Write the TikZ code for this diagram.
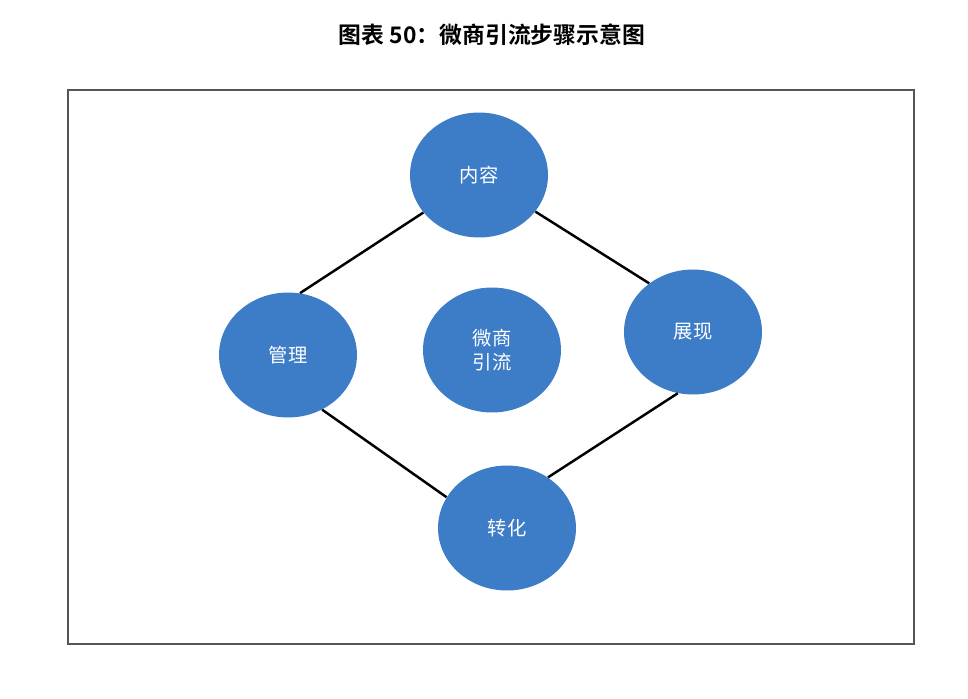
\documentclass[tikz,border=0pt]{standalone}
\usepackage{fontspec}
\newfontfamily\cjk{Noto Sans CJK SC}
\newfontfamily\cjkbold{Noto Sans CJK SC Bold}
\usetikzlibrary{shapes.geometric}
\definecolor{stepblue}{HTML}{3D7CC7}
\definecolor{framegray}{HTML}{555555}

\begin{document}
\begin{tikzpicture}[
    x=0.02cm, y=-0.02cm,
    stepnode/.style={ellipse, fill=stepblue, minimum width=2.76cm, minimum height=2.5cm,
      inner sep=0pt, text=white, font=\cjk\fontsize{11}{14}\selectfont},
    link/.style={line width=1.4pt, black}
  ]
  \useasboundingbox (0,0) rectangle (968,698);

  %% Title
  \node[font=\cjkbold\fontsize{13}{15}\selectfont] (title) at (492,35) {图表 50：微商引流步骤示意图};

  %% Frame
  \draw[framegray, line width=1.2pt] (68,90) rectangle (914,644);

  %% Steps
  \node[stepnode] (neirong)  at (479,175) {内容};
  \node[stepnode] (guanli)   at (288,355) {管理};
  \node[stepnode, align=left] (center) at (492,350) {微商\\引流};
  \node[stepnode] (zhanxian) at (693,332) {展现};
  \node[stepnode] (zhuanhua) at (507,528) {转化};

  %% Links
  \draw[link] (guanli.79)    -- (neirong.214);
  \draw[link] (neirong.327)  -- (zhanxian.132);
  \draw[link] (guanli.302)   -- (zhuanhua.153);
  \draw[link] (zhanxian.256) -- (zhuanhua.51);

\end{tikzpicture}
\end{document}
